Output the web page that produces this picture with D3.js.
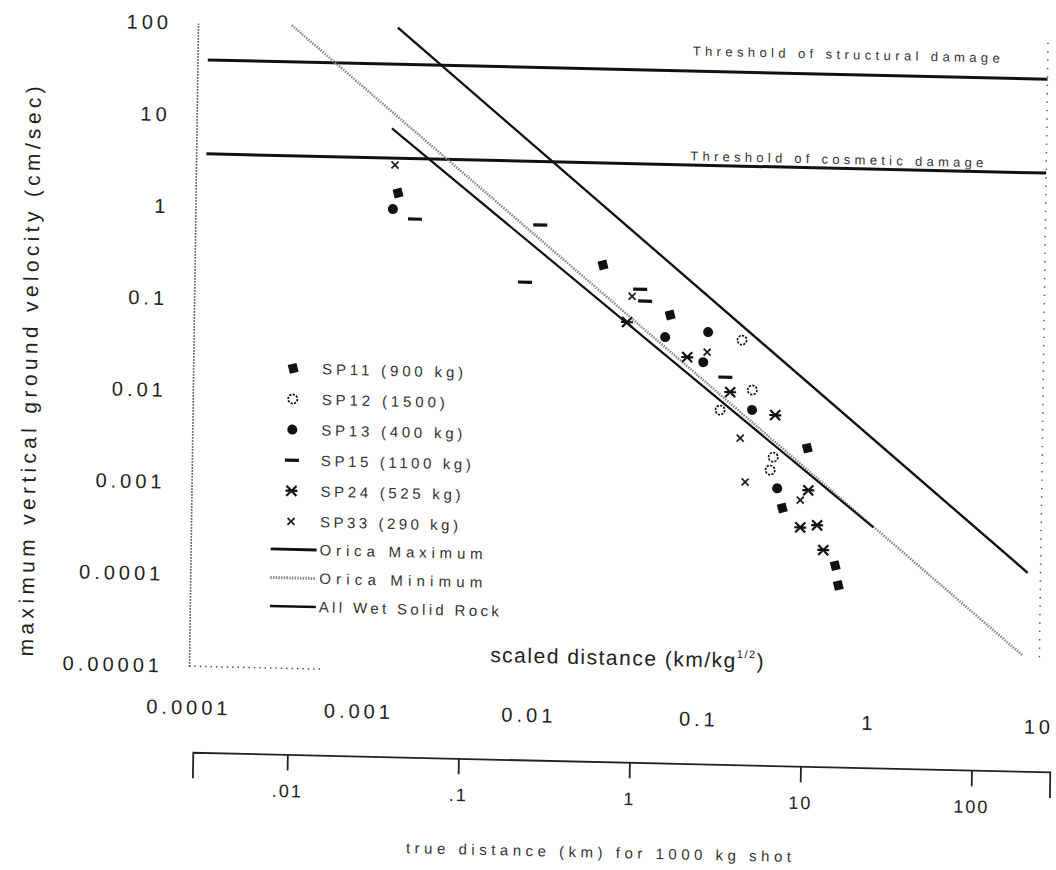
<!DOCTYPE html>
<html>
<head>
<meta charset="utf-8">
<script src="https://cdn.jsdelivr.net/npm/d3@7"></script>
<style>
  body { margin: 0; background: #fff; }
  svg { display: block; font-family: "Liberation Sans", Arial, sans-serif; }
  .tick text { fill: #222; }
</style>
</head>
<body>
<script>
// peak vertical velocity (cm/sec) vs scaled distance (km/kg^1/2)
// each point is [scaled distance, velocity]
var sp11 = [[0.00155, 1.59], [0.0252, 0.294], [0.0632, 0.0873], [0.415, 0.00337], [0.299, 0.00074], [0.619, 0.00018], [0.648, 0.00011]];
var sp12 = [[0.168, 0.0485], [0.195, 0.014], [0.1265, 0.0083], [0.262, 0.00263], [0.252, 0.0019]];
var sp13 = [[0.00145, 1.06], [0.0593, 0.0501], [0.106, 0.0582], [0.0998, 0.0273], [0.195, 0.0085], [0.278, 0.00121]];
var sp15 = [[0.00196, 0.835], [0.0107, 0.773], [0.0088, 0.183], [0.0419, 0.164], [0.0449, 0.122], [0.135, 0.019]];
var sp24 = [[0.0353, 0.0714], [0.0802, 0.0307], [0.1445, 0.0131], [0.267, 0.00755], [0.424, 0.00117], [0.383, 0.00046], [0.481, 0.00049], [0.525, 0.000264]];
var sp33 = [[0.00148, 3.2], [0.0376, 0.137], [0.105, 0.0352], [0.167, 0.00416], [0.18, 0.00139], [0.381, 0.00091]];

// fitted lines, end points
var oricaMax = [[0.0015, 100], [8.4, 0.000168]];
var oricaMin = [[0.000356, 100], [8.0, 0.000021]];
var wetRock = [[0.00141, 8.0], [1.03, 0.00048]];

// damage thresholds (cm/sec)
var structural = 40;
var cosmetic = 3.8;
var thresholdSpan = [0.000115, 10];

// tick values and labels
var yTicks = [100, 10, 1, 0.1, 0.01, 0.001, 0.0001, 0.00001];
var yTickLabels = ["100", "10", "1", "0.1", "0.01", "0.001", "0.0001", "0.00001"];
var xTicks = [0.0001, 0.001, 0.01, 0.1, 1, 10];
var xTickLabels = ["0.0001", "0.001", "0.01", "0.1", "1", "10"];
var trueTicks = [0.01, 0.1, 1, 10, 100];
var trueTickLabels = [".01", ".1", "1", "10", "100"];

var series = [
  {name: "SP11 (900 kg)", type: "square", data: sp11, w: 141},
  {name: "SP12 (1500)", type: "open", data: sp12, w: 123},
  {name: "SP13 (400 kg)", type: "dot", data: sp13, w: 141},
  {name: "SP15 (1100 kg)", type: "dash", data: sp15, w: 150},
  {name: "SP24 (525 kg)", type: "star", data: sp24, w: 140},
  {name: "SP33 (290 kg)", type: "cross", data: sp33, w: 138}
];
var lines = [
  {name: "Orica Maximum", data: oricaMax, stroke: "#111", width: 2.4, dash: null, w: 163},
  {name: "Orica Minimum", data: oricaMin, stroke: "#888", width: 2.6, dash: "1.5,1.2", w: 163},
  {name: "All Wet Solid Rock", data: wetRock, stroke: "#111", width: 2.2, dash: null, w: 180}
];

var svg = d3.select("body").append("svg")
    .attr("width", 1056)
    .attr("height", 870);

// the scan is slightly skewed, so the whole figure is drawn in a sheared group
var g = svg.append("g")
    .attr("transform", "translate(193,22) matrix(1,0.023,-0.014,1,0,0) translate(-193,-22)");

var x = d3.scaleLog().domain([1e-4, 10]).range([198, 1048]);
var y = d3.scaleLog().domain([1e-5, 100]).range([666, 23]);
// true distance for a 1000 kg shot, drawn as its own axis under the plot
var xTrue = d3.scaleLog().domain([0.0028, 287]).range([203, 1060]);

// left axis: dotted frame line with labels, no ticks
var yAxis = g.append("g")
    .attr("transform", "translate(198,0)")
    .call(d3.axisLeft(y)
      .tickValues(yTicks)
      .tickSize(0)
      .tickSizeOuter(0)
      .tickPadding(26)
      .tickFormat(function(d, i) { return yTickLabels[i]; }));
yAxis.select(".domain")
    .attr("stroke", "#333")
    .attr("stroke-width", 1.6)
    .attr("stroke-dasharray", "1.4,1.6");
yAxis.selectAll("text")
    .style("font-size", "20px")
    .style("letter-spacing", "4px");

// scaled distance labels under the plot
var xAxis = g.append("g")
    .attr("transform", "translate(0,666)")
    .call(d3.axisBottom(x)
      .tickValues(xTicks)
      .tickSize(0)
      .tickPadding(34)
      .tickFormat(function(d, i) { return xTickLabels[i]; }));
xAxis.select(".domain").remove();
xAxis.selectAll("text")
    .style("font-size", "20px")
    .style("letter-spacing", "4px");

// bottom frame, only partly visible in the scan
g.append("line")
    .attr("x1", x(1e-4)).attr("x2", x(0.0006))
    .attr("y1", y(1e-5)).attr("y2", y(1e-5))
    .attr("stroke", "#444").attr("stroke-width", 1.5)
    .attr("stroke-dasharray", "1.4,4");

// right frame, faint dots
g.append("line")
    .attr("x1", x(10)).attr("x2", x(10))
    .attr("y1", y(100)).attr("y2", y(2e-5))
    .attr("stroke", "#555").attr("stroke-width", 1.5)
    .attr("stroke-dasharray", "1.4,7");

// true distance axis
var trueAxis = g.append("g")
    .attr("transform", "translate(0,752)")
    .call(d3.axisBottom(xTrue)
      .tickValues(trueTicks)
      .tickSize(16)
      .tickSizeOuter(26)
      .tickPadding(14)
      .tickFormat(function(d, i) { return trueTickLabels[i]; }));
trueAxis.selectAll("path, line")
    .attr("stroke", "#222")
    .attr("stroke-width", 1.8);
trueAxis.selectAll("text")
    .style("font-size", "18px")
    .style("letter-spacing", "2px");

// thresholds
var line = d3.line()
    .x(function(d) { return x(d[0]); })
    .y(function(d) { return y(d[1]); });

[structural, cosmetic].forEach(function(v) {
  g.append("path")
      .attr("d", line(thresholdSpan.map(function(d) { return [d, v]; })))
      .attr("fill", "none")
      .attr("stroke", "#111")
      .attr("stroke-width", 3);
});

g.append("text")
    .attr("x", 693).attr("y", 44)
    .attr("textLength", 307)
    .attr("lengthAdjust", "spacing")
    .style("font-size", "13px").attr("fill", "#333")
    .text("Threshold of structural damage");
g.append("text")
    .attr("x", 692).attr("y", 149)
    .attr("textLength", 293)
    .attr("lengthAdjust", "spacing")
    .style("font-size", "13px").attr("fill", "#333")
    .text("Threshold of cosmetic damage");

// fitted lines
lines.forEach(function(l) {
  g.append("path")
      .attr("d", line(l.data))
      .attr("fill", "none")
      .attr("stroke", l.stroke)
      .attr("stroke-width", l.width)
      .attr("stroke-dasharray", l.dash);
});

// point markers
function marker(sel, type) {
  if (type === "square") {
    sel.append("rect").attr("x", -4.5).attr("y", -4.5).attr("width", 9).attr("height", 9)
        .attr("fill", "#111").attr("transform", "rotate(-15)");
  } else if (type === "open") {
    sel.append("circle").attr("r", 4.6).attr("fill", "none")
        .attr("stroke", "#111").attr("stroke-width", 1.7).attr("stroke-dasharray", "2.2,1.3");
  } else if (type === "dot") {
    sel.append("circle").attr("r", 5).attr("fill", "#111");
  } else if (type === "dash") {
    sel.append("rect").attr("x", -7).attr("y", -1.6).attr("width", 14).attr("height", 3.2)
        .attr("fill", "#111");
  } else if (type === "star") {
    sel.append("path").attr("d", "M-5,-5L5,5M-5,5L5,-5M-6,0L6,0")
        .attr("stroke", "#111").attr("stroke-width", 2.2);
  } else {
    sel.append("path").attr("d", "M-3.5,-3.5L3.5,3.5M-3.5,3.5L3.5,-3.5")
        .attr("stroke", "#222").attr("stroke-width", 1.8);
  }
}

series.forEach(function(s) {
  g.append("g").selectAll("g")
    .data(s.data)
    .enter().append("g")
      .attr("transform", function(d) { return "translate(" + x(d[0]) + "," + y(d[1]) + ")"; })
      .each(function() { marker(d3.select(this), s.type); });
});

// legend
var legend = g.append("g");
series.forEach(function(s, i) {
  var ly = 366 + i * 30.6;
  marker(legend.append("g").attr("transform", "translate(298," + ly + ")"), s.type);
  legend.append("text")
      .attr("x", 327).attr("y", ly).attr("dy", "0.35em")
      .attr("textLength", s.w).attr("lengthAdjust", "spacing")
      .style("font-size", "15px").attr("fill", "#333")
      .text(s.name);
});
lines.forEach(function(l, i) {
  var ly = 547 + i * 28.5;
  legend.append("line")
      .attr("x1", 278).attr("x2", 324).attr("y1", ly).attr("y2", ly)
      .attr("stroke", l.stroke).attr("stroke-width", l.width + 0.4)
      .attr("stroke-dasharray", l.dash);
  legend.append("text")
      .attr("x", 327).attr("y", ly).attr("dy", "0.35em")
      .attr("textLength", l.w).attr("lengthAdjust", "spacing")
      .style("font-size", "15px").attr("fill", "#333")
      .text(l.name);
});

// axis titles
g.append("text")
    .attr("transform", "translate(42,375) rotate(-90)")
    .attr("text-anchor", "middle")
    .attr("textLength", 570).attr("lengthAdjust", "spacing")
    .style("font-size", "21px").attr("fill", "#222")
    .text("maximum vertical ground velocity (cm/sec)");

var sd = g.append("text")
    .attr("x", 499).attr("y", 655)
    .style("font-size", "21px").style("letter-spacing", "1.5px").attr("fill", "#222");
sd.append("tspan").text("scaled distance (km/kg");
sd.append("tspan").attr("dy", -10).style("font-size", "11px").text("1/2");
sd.append("tspan").attr("dy", 10).text(")");

g.append("text")
    .attr("x", 610).attr("y", 848)
    .attr("text-anchor", "middle")
    .attr("textLength", 385).attr("lengthAdjust", "spacing")
    .style("font-size", "15px").attr("fill", "#333")
    .text("true distance (km) for 1000 kg shot");
</script>
</body>
</html>
